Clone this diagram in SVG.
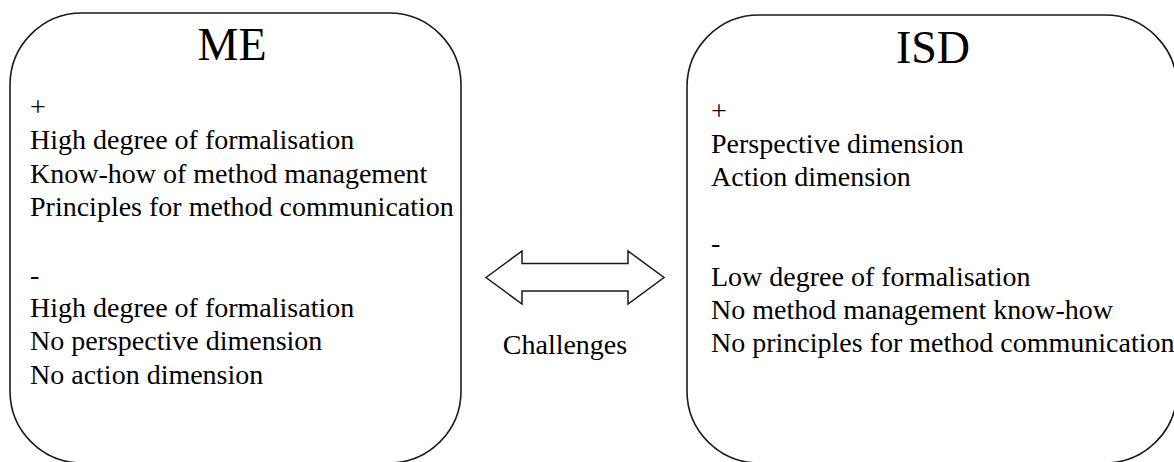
<svg xmlns="http://www.w3.org/2000/svg" width="1174" height="462" viewBox="0 0 1174 462">
  <style>
    .box { fill: #ffffff; stroke: #1a1a1a; stroke-width: 1.6; }
    .title { font-size: 46px; fill: #000; text-anchor: middle; }
    .body { font-size: 28px; fill: #000; }
    .arrow { fill: #ffffff; stroke: #1a1a1a; stroke-width: 1.5; stroke-linejoin: miter; }
  </style>
  <rect width="1174" height="462" fill="#ffffff"/>

  <g font-family="Liberation Serif, Tinos, DejaVu Serif, serif">
  <g id="node-me">
    <rect class="box" x="10" y="13" width="451" height="450" rx="72" ry="72"/>
    <text class="title" x="232" y="60">ME</text>
    <text class="body" x="30" y="116">+</text>
    <text class="body" x="30" y="149">High degree of formalisation</text>
    <text class="body" x="30" y="183">Know-how of method management</text>
    <text class="body" x="30" y="216">Principles for method communication</text>
    <text class="body" x="30" y="284">-</text>
    <text class="body" x="30" y="317">High degree of formalisation</text>
    <text class="body" x="30" y="350">No perspective dimension</text>
    <text class="body" x="30" y="384">No action dimension</text>
  </g>

  <g id="node-isd">
    <rect class="box" x="687" y="15" width="490" height="448" rx="72" ry="72"/>
    <text class="title" x="933" y="63">ISD</text>
    <text class="body" x="711" y="120">+</text>
    <text class="body" x="711" y="153">Perspective dimension</text>
    <text class="body" x="711" y="186">Action dimension</text>
    <text class="body" x="711" y="252">-</text>
    <text class="body" x="711" y="286">Low degree of formalisation</text>
    <text class="body" x="711" y="319">No method management know-how</text>
    <text class="body" x="711" y="352">No principles for method communication</text>
  </g>

  <g id="connectors">
    <path class="arrow" d="M486,277.5 L522,251 L522,263.5 L628,263.5 L628,251 L664,277.5 L628,304 L628,291 L522,291 L522,304 Z"/>
    <text class="body" x="565" y="354" text-anchor="middle">Challenges</text>
  </g>
  </g>
</svg>
